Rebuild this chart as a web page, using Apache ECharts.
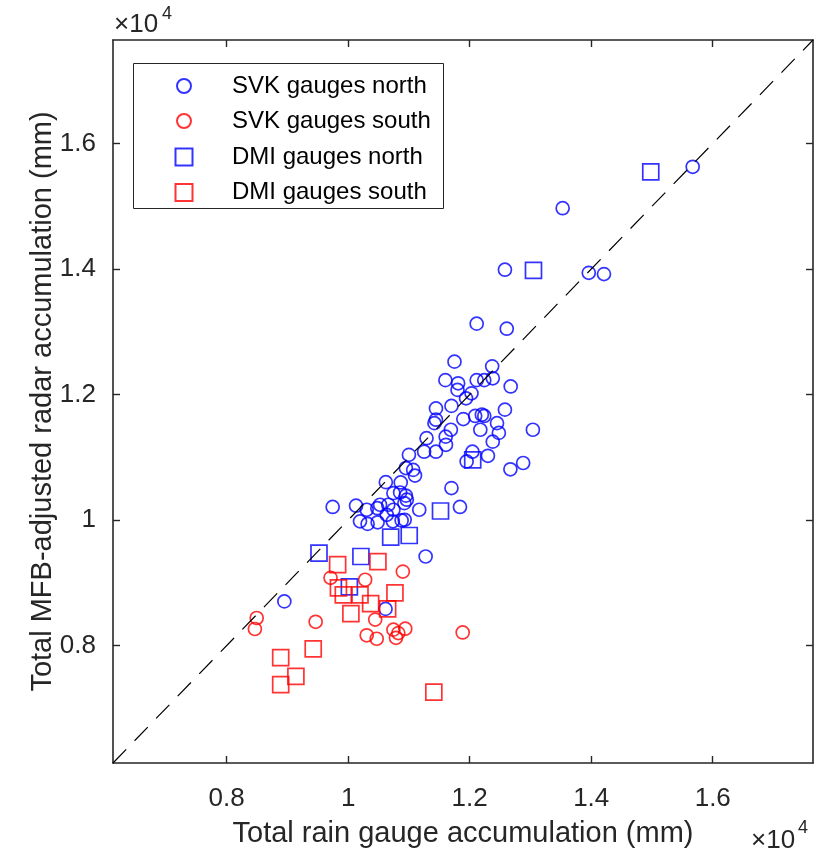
<!DOCTYPE html>
<html><head><meta charset="utf-8">
<script src="https://cdn.jsdelivr.net/npm/echarts@6/dist/echarts.min.js"></script>
<style>html,body{margin:0;padding:0;background:#fff}#c{width:832px;height:854px}</style>
</head><body><div id="c"></div>
<script>
// axis definition
const axisRange = [6130, 17650];
const tickValues = [8000, 10000, 12000, 14000, 16000];
const tickLabels = ['0.8', '1', '1.2', '1.4', '1.6'];
const oneToOne = [6130, 17650];

// SVK gauges north (blue circles)
const svkNorthX = [15670,13530,12580,13960,14210,12115,12610,11750,12370,11600,11810,11800,12115,12240,12380,12675,12030,11940,11445,11700,12580,11445,11420,11895,12090,12200,12240,12450,12480,13040,12175,11690,11605,11610,11290,11445,11250,12380,12300,11000,12045,11950,12670,12880,10950,11070,11100,10620,10865,11700,10745,10855,10950,10965,9745,10130,10525,10305,10480,10660,10745,10925,11170,10195,10320,10485,10635,10735,10880,10930,11840,11275,8950,10615];
const svkNorthY = [15630,14970,13990,13940,13920,13130,13050,12525,12450,12230,12180,12075,12230,12230,12260,12130,12020,11940,11780,11820,11760,11600,11545,11610,11660,11680,11660,11545,11390,11440,11440,11440,11330,11200,11305,11090,11090,11250,11025,11040,11090,10935,10810,10910,10830,10800,10710,10605,10600,10510,10430,10440,10390,10325,10210,10230,10245,10165,10190,10245,10165,10270,10165,9980,9940,9965,10085,9980,9995,10005,10210,9420,8705,8585];

// SVK gauges south (red circles)
const svkSouthX = [9710,10280,10900,8495,8465,9465,10445,10305,10470,10745,10825,10787,10940,11885];
const svkSouthY = [9080,9050,9180,8440,8265,8380,8415,8165,8110,8255,8200,8125,8270,8210];

// DMI gauges north (blue squares)
const dmiNorthX = [14980,13050,12050,11520,10700,11005,9520,10210,10020];
const dmiNorthY = [15550,13980,10960,10145,9730,9755,9475,9420,8935];

// DMI gauges south (red squares)
const dmiSouthX = [9827,10490,9840,9920,10195,10770,10370,10650,10045,9425,8890,9140,8890,11410];
const dmiSouthY = [9290,9340,8920,8810,8810,8840,8670,8585,8510,7950,7810,7510,7380,7260];

const seriesNames = ['SVK gauges north', 'SVK gauges south', 'DMI gauges north', 'DMI gauges south'];

const zip = (xs, ys) => xs.map((x, i) => [x, ys[i]]);
const FONT = "'Liberation Sans', Arial, sans-serif";
const AX = '#262626';
const fmt = v => { const i = tickValues.indexOf(v); return i >= 0 ? tickLabels[i] : ''; };

function axis(pos, showLabel, name) {
  const a = {
    type: 'value', position: pos, min: axisRange[0], max: axisRange[1],
    axisLine: { show: true, onZero: false, lineStyle: { color: AX, width: 1.6 } },
    axisTick: { show: true, inside: true, length: 7, customValues: tickValues, lineStyle: { color: AX, width: 1.4 } },
    axisLabel: { show: showLabel, customValues: tickValues, formatter: fmt, fontSize: 26, color: AX, fontFamily: FONT },
    splitLine: { show: false }
  };
  if (name) {
    a.name = name; a.nameLocation = 'middle'; a.nameMoveOverlap = false;
    a.nameTextStyle = { fontSize: 29, color: AX, fontFamily: FONT };
  }
  return a;
}

const xMain = axis('bottom', true, 'Total rain gauge accumulation (mm)');
xMain.axisLabel.margin = 23; xMain.nameGap = 56;
const yMain = axis('left', true, 'Total MFB-adjusted radar accumulation (mm)');
yMain.axisLabel.margin = 17; yMain.nameGap = 56;
const xTop = axis('top', false);
const yRight = axis('right', false);

function scatter(name, data, symbol, size, color) {
  return {
    name, type: 'scatter', data, symbol, symbolSize: size,
    xAxisIndex: 0, yAxisIndex: 0,
    itemStyle: { color: 'rgba(0,0,0,0)', borderColor: color, borderWidth: 1.7 },
    emphasis: { disabled: true }, z: 3
  };
}

const chart = echarts.init(document.getElementById('c'), null, { renderer: 'canvas' });
chart.setOption({
  animation: false,
  backgroundColor: '#fff',
  grid: { left: 113, right: 19, top: 40, bottom: 91, containLabel: false },
  xAxis: [xMain, xTop],
  yAxis: [yMain, yRight],
  legend: [
    { data: seriesNames.slice(0, 2), orient: 'vertical', left: 176, top: 74, padding: 0,
      itemWidth: 14, itemHeight: 14, itemGap: 11, selectedMode: false,
      textStyle: { fontSize: 24, color: '#000', fontFamily: FONT, lineHeight: 20, padding: [0, 0, 0, 36] } },
    { data: seriesNames.slice(2, 4), orient: 'vertical', left: 174.5, top: 145, padding: 0,
      itemWidth: 17, itemHeight: 17, itemGap: 11.5, selectedMode: false,
      textStyle: { fontSize: 24, color: '#000', fontFamily: FONT, lineHeight: 20, padding: [0, 0, 0, 34.5] } }
  ],
  graphic: [
    { type: 'rect', left: 133, top: 63, z: 1, shape: { width: 310, height: 145 },
      style: { fill: '#fff', stroke: AX, lineWidth: 1 } },
    { type: 'text', x: 114, y: 25, z: 5, style: { text: '×10', font: "26px 'Liberation Sans', Arial", fill: AX, verticalAlign: 'middle', align: 'left' } },
    { type: 'text', x: 162, y: 14, z: 5, style: { text: '4', font: "18px 'Liberation Sans', Arial", fill: AX, verticalAlign: 'middle', align: 'left' } },
    { type: 'text', x: 751, y: 841, z: 5, style: { text: '×10', font: "26px 'Liberation Sans', Arial", fill: AX, verticalAlign: 'middle', align: 'left' } },
    { type: 'text', x: 798, y: 828, z: 5, style: { text: '4', font: "18px 'Liberation Sans', Arial", fill: AX, verticalAlign: 'middle', align: 'left' } }
  ],
  series: [
    { name: '1:1', type: 'line', data: [[oneToOne[0], oneToOne[0]], [oneToOne[1], oneToOne[1]]],
      symbol: 'none', silent: true, z: 4,
      lineStyle: { color: '#000', width: 1.2, type: [19, 12] } },
    scatter(seriesNames[0], zip(svkNorthX, svkNorthY), 'circle', 13, '#0000ff'),
    scatter(seriesNames[1], zip(svkSouthX, svkSouthY), 'circle', 13, '#ff0000'),
    scatter(seriesNames[2], zip(dmiNorthX, dmiNorthY), 'rect', 16, '#0000ff'),
    scatter(seriesNames[3], zip(dmiSouthX, dmiSouthY), 'rect', 16, '#ff0000')
  ]
});
</script></body></html>
